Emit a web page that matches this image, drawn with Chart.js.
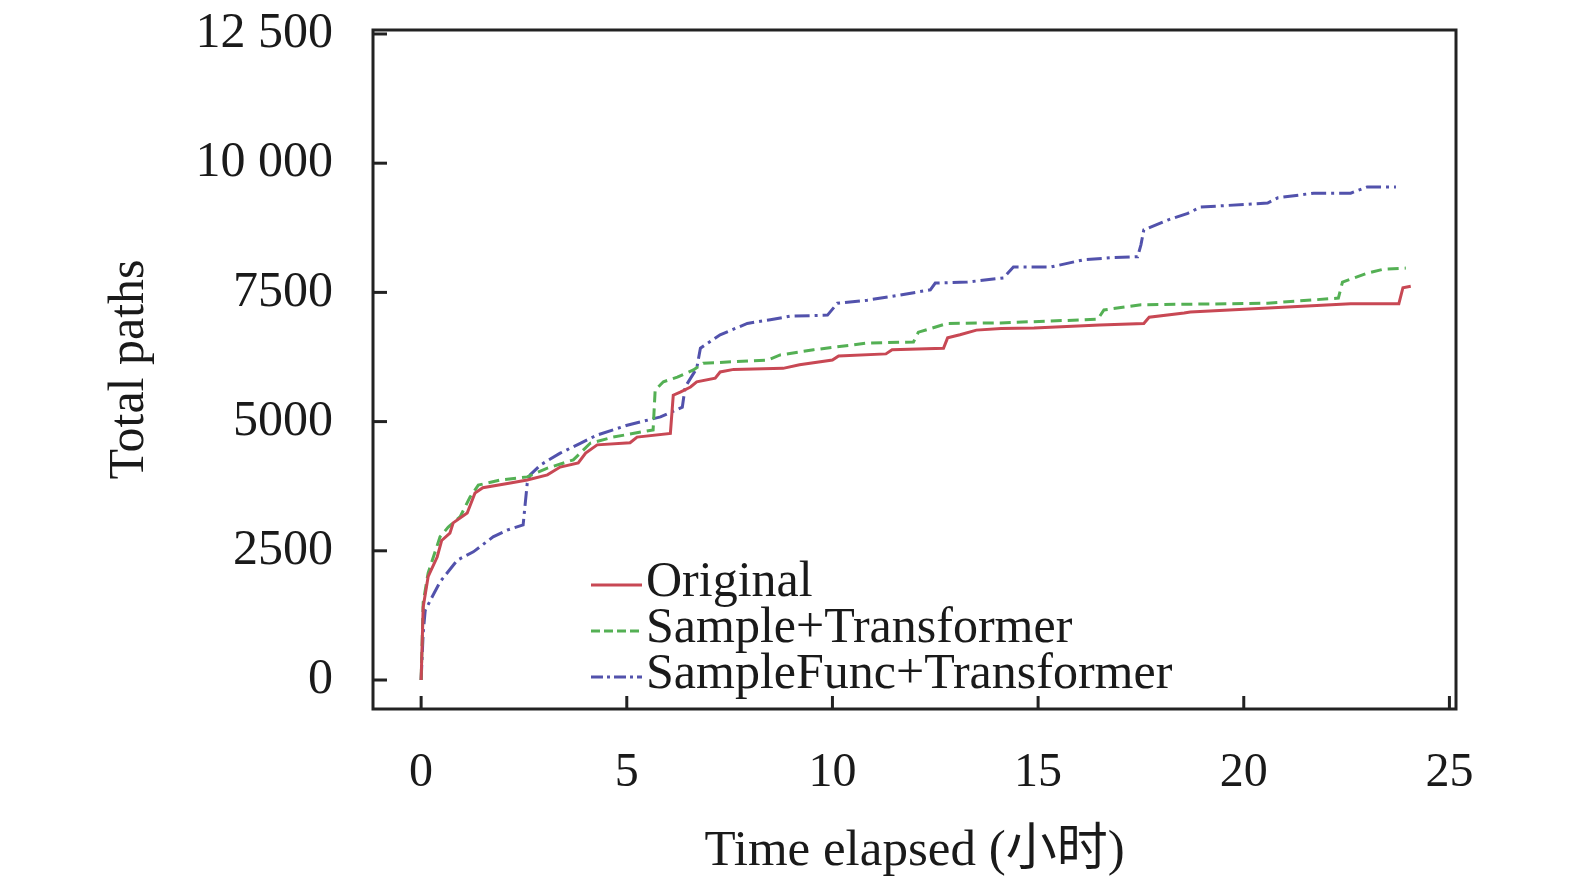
<!DOCTYPE html>
<html>
<head>
<meta charset="utf-8">
<script src="https://cdn.jsdelivr.net/npm/chart.js@4.4.1/dist/chart.umd.min.js"></script>
<style>
  html, body { margin: 0; padding: 0; background: #fff; }
  #wrap { width: 1575px; height: 886px; }
</style>
</head>
<body>
<div id="wrap"><canvas id="chart" width="1575" height="886"></canvas></div>
<script>
// Datos (horas, rutas totales)
const originalX = [0, 0.05, 0.17, 0.39, 0.5, 0.7, 0.78, 1.12, 1.31, 1.5, 2.17, 2.58, 3.07, 3.38, 3.82, 4.0, 4.28, 5.08, 5.25, 6.06, 6.13, 6.3, 6.55, 6.7, 7.15, 7.27, 7.6, 8.8, 9.2, 10.0, 10.15, 11.3, 11.45, 12.7, 12.8, 13.1, 13.5, 14.1, 14.9, 16.5, 17.57, 17.7, 18.55, 18.7, 20.6, 22.6, 23.77, 23.87, 24.06];
const originalY = [0, 1410, 2000, 2380, 2700, 2840, 3040, 3230, 3620, 3720, 3810, 3870, 3970, 4120, 4200, 4390, 4550, 4590, 4700, 4770, 5510, 5570, 5670, 5770, 5840, 5960, 6010, 6030, 6100, 6190, 6270, 6310, 6390, 6420, 6620, 6680, 6770, 6800, 6810, 6870, 6900, 7020, 7100, 7120, 7200, 7280, 7280, 7590, 7620];

const sampleX = [0, 0.05, 0.17, 0.46, 0.66, 0.95, 1.19, 1.39, 1.92, 2.58, 3.07, 3.7, 4.11, 4.67, 5.64, 5.69, 5.89, 6.23, 6.62, 6.86, 8.42, 8.73, 9.54, 10.85, 11.97, 12.09, 12.8, 14.09, 16.45, 16.6, 17.5, 20.58, 22.3, 22.4, 23.0, 23.4, 23.94];
const sampleY = [0, 1500, 2070, 2770, 2960, 3160, 3540, 3770, 3870, 3930, 4100, 4260, 4580, 4700, 4840, 5610, 5770, 5860, 6000, 6130, 6190, 6290, 6390, 6520, 6540, 6730, 6900, 6910, 6980, 7160, 7260, 7290, 7390, 7700, 7870, 7950, 7970];

const funcX = [0, 0.05, 0.1, 0.27, 0.46, 0.88, 1.27, 1.75, 2.09, 2.48, 2.58, 2.65, 2.9, 3.38, 3.87, 4.28, 5.01, 5.82, 6.35, 6.42, 6.7, 6.79, 7.27, 7.93, 8.49, 8.98, 9.88, 10.12, 10.85, 11.65, 12.38, 12.5, 13.28, 14.16, 14.4, 15.3, 16.1, 16.76, 17.42, 17.5, 17.57, 18.15, 18.64, 18.95, 20.58, 20.83, 21.7, 22.6, 23.0, 23.7];
const funcY = [0, 910, 1350, 1610, 1900, 2320, 2480, 2770, 2900, 3000, 3810, 3970, 4160, 4390, 4580, 4740, 4930, 5090, 5280, 5670, 6030, 6420, 6680, 6900, 6970, 7040, 7060, 7290, 7350, 7450, 7550, 7680, 7700, 7780, 7990, 7990, 8130, 8170, 8190, 8420, 8710, 8900, 9030, 9150, 9230, 9330, 9420, 9420, 9540, 9540];

const seriesNames = ['Original', 'Sample+Transformer', 'SampleFunc+Transformer'];
const xTicks = [0, 5, 10, 15, 20, 25];
const yTicks = [0, 2500, 5000, 7500, 10000, 12500];
const yTickLabels = ['0', '2500', '5000', '7500', '10 000', '12 500'];

const FONT = '"Liberation Serif", "Times New Roman", "Noto Sans CJK SC", serif';

function toPoints(xs, ys) {
    return xs.map((x, i) => ({ x: x, y: ys[i] }));
}

const styles = [
    { color: 'rgb(200, 72, 84)', dash: [] },
    { color: 'rgb(84, 176, 84)', dash: [11, 6] },
    { color: 'rgb(82, 82, 172)', dash: [15, 5, 3, 5] }
];

// Marco, marcas hacia dentro y leyenda
const framePlugin = {
    id: 'frame',
    afterDraw(chart) {
        const { ctx, chartArea: a, scales } = chart;
        ctx.save();
        ctx.strokeStyle = '#222';
        ctx.lineWidth = 3;
        ctx.strokeRect(a.left, a.top, a.right - a.left, a.bottom - a.top);
        xTicks.forEach(v => {
            const px = scales.x.getPixelForValue(v);
            ctx.beginPath();
            ctx.moveTo(px, a.bottom);
            ctx.lineTo(px, a.bottom - 13);
            ctx.stroke();
        });
        yTicks.forEach(v => {
            const py = scales.y.getPixelForValue(v);
            ctx.beginPath();
            ctx.moveTo(a.left, py);
            ctx.lineTo(a.left + 14, py);
            ctx.stroke();
        });

        // Leyenda
        const lx = 591, lw = 51;
        const rows = [585, 631, 677];
        ctx.font = '50px ' + FONT;
        ctx.fillStyle = '#1a1a1a';
        ctx.textBaseline = 'middle';
        seriesNames.forEach((name, i) => {
            ctx.strokeStyle = styles[i].color;
            ctx.lineWidth = 3;
            ctx.setLineDash(i === 2 ? [12, 4, 3, 4] : (i === 1 ? [9, 4] : []));
            ctx.beginPath();
            ctx.moveTo(lx, rows[i]);
            ctx.lineTo(lx + lw, rows[i]);
            ctx.stroke();
            ctx.setLineDash([]);
            ctx.fillText(name, lx + lw + 4, rows[i] - 2);
        });
        ctx.restore();
    }
};

const ctx = document.getElementById('chart').getContext('2d');
const chart = new Chart(ctx, {
    type: 'line',
    data: {
        datasets: [
            { label: seriesNames[0], data: toPoints(originalX, originalY) },
            { label: seriesNames[1], data: toPoints(sampleX, sampleY) },
            { label: seriesNames[2], data: toPoints(funcX, funcY) }
        ].map((d, i) => Object.assign(d, {
            borderColor: styles[i].color,
            borderDash: styles[i].dash,
            borderWidth: 3,
            pointRadius: 0,
            tension: 0,
            fill: false
        }))
    },
    options: {
        responsive: false,
        animation: false,
        devicePixelRatio: 1,
        layout: { padding: { left: 100, top: 30, right: 119, bottom: 0 } },
        plugins: {
            legend: { display: false },
            tooltip: { enabled: false }
        },
        scales: {
            x: {
                type: 'linear',
                min: -1.17,
                max: 25.16,
                grid: { display: false, drawTicks: false },
                border: { display: false },
                afterBuildTicks: s => { s.ticks = xTicks.map(v => ({ value: v })); },
                afterFit: s => { s.height = 177; s.paddingLeft = 0; s.paddingRight = 0; },
                ticks: {
                    padding: 36,
                    color: '#1a1a1a',
                    font: { family: FONT, size: 48 },
                    maxRotation: 0
                },
                title: {
                    display: true,
                    text: 'Time elapsed (小时)',
                    color: '#1a1a1a',
                    font: { family: FONT, size: 51 },
                    padding: { top: 0, bottom: 4 }
                }
            },
            y: {
                min: -561,
                max: 12577,
                grid: { display: false, drawTicks: false },
                border: { display: false },
                afterBuildTicks: s => { s.ticks = yTicks.map(v => ({ value: v })); },
                afterFit: s => { s.width = 273; s.paddingTop = 0; s.paddingBottom = 0; },
                ticks: {
                    padding: 40,
                    color: '#1a1a1a',
                    font: { family: FONT, size: 50 },
                    callback: (v) => yTickLabels[yTicks.indexOf(v)]
                },
                title: {
                    display: true,
                    text: 'Total paths',
                    color: '#1a1a1a',
                    font: { family: FONT, size: 50 },
                    padding: { top: 0, bottom: 0 }
                }
            }
        }
    },
    plugins: [framePlugin]
});
</script>
</body>
</html>
